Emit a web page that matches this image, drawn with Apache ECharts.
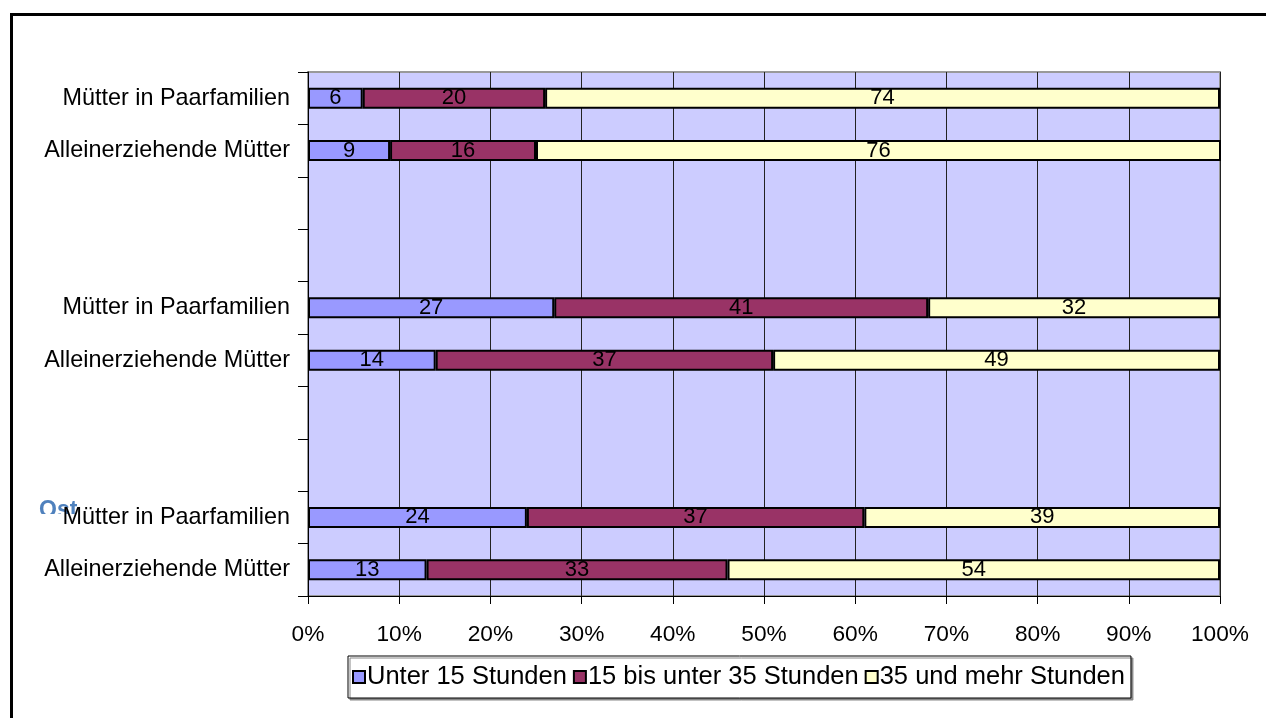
<!DOCTYPE html>
<html>
<head>
<meta charset="utf-8">
<script src="https://cdn.jsdelivr.net/npm/echarts@6/dist/echarts.min.js"></script>
<style>
html,body{margin:0;padding:0;background:#fff;}
#chart{width:1266px;height:718px;}
</style>
</head>
<body>
<div id="chart"></div>
<script>
// categories, bottom to top (empty strings are spacer rows)
const categories = ['Alleinerziehende Mütter','Mütter in Paarfamilien','','','Alleinerziehende Mütter','Mütter in Paarfamilien','','','Alleinerziehende Mütter','Mütter in Paarfamilien'];
const seriesNames = ['Unter 15 Stunden','15 bis unter 35 Stunden','35 und mehr Stunden'];
const under15 = [13,24,null,null,14,27,null,null,9,6];
const from15to35 = [33,37,null,null,37,41,null,null,16,20];
const over35 = [54,39,null,null,49,32,null,null,76,74];
const xTicks = [0,10,20,30,40,50,60,70,80,90,100];

const colors = ['#9999FF','#993366','#FFFFCC'];
const FONT = 'Liberation Sans, Arial, sans-serif';

const chart = echarts.init(document.getElementById('chart'));
const mk = (name, data, color) => ({
  name, type:'bar', stack:'total', data, barWidth:21,
  itemStyle:{color, borderColor:'#000', borderWidth:2},
  label:{show:true, position:'inside', color:'#000', fontSize:22, fontFamily:FONT,
         formatter:p=> p.value==null?'':String(p.value)},
  emphasis:{disabled:true}
});
chart.setOption({
  animation:false,
  grid:{left:308, right:46, top:72, bottom:122, show:true, backgroundColor:'#CCCCFF', borderColor:'#999', borderWidth:2},
  legend:{
    data:seriesNames, left:348, top:656, orient:'horizontal',
    backgroundColor:'#fff', borderColor:'#000', borderWidth:1,
    shadowColor:'#888', shadowOffsetX:2, shadowOffsetY:2, shadowBlur:0,
    padding:[8,6,8,4], itemGap:6, itemWidth:12, itemHeight:12, icon:'rect',
    itemStyle:{borderColor:'#000', borderWidth:2},
    textStyle:{fontSize:25.5, fontFamily:FONT, color:'#000', padding:[0,0,0,-3]}
  },
  xAxis:{
    type:'value', min:xTicks[0], max:xTicks[xTicks.length-1], interval:10,
    axisLine:{show:true, lineStyle:{color:'#000', width:1}},
    axisTick:{show:true, length:8, lineStyle:{color:'#000'}},
    axisLabel:{formatter:'{value}%', fontSize:22.7, fontFamily:FONT, color:'#000', margin:27},
    splitLine:{show:true, lineStyle:{color:'#222', width:1}}
  },
  yAxis:{
    type:'category', data:categories.map((c,i)=>String(i)), z:10,
    axisLine:{show:true, lineStyle:{color:'#000', width:1}},
    axisTick:{show:true, length:10, interval:0, lineStyle:{color:'#000'}},
    axisLabel:{interval:0, fontSize:23.4, fontFamily:FONT, color:'#000', margin:18,
               formatter:(v,i)=>categories[Number(v)]},
    splitLine:{show:false}
  },
  graphic:[
    {type:'rect', left:9, top:12, shape:{width:1400, height:800}, style:{fill:'none', stroke:'#000', lineWidth:3}, silent:true},
    {type:'text', left:39, top:499, style:{text:'Ost', fill:'#4F81BD', font:'bold 23px Liberation Sans, Arial, sans-serif'}, z:1},
    {type:'rect', left:34, top:514, shape:{width:50, height:25}, style:{fill:'#fff'}, z:2}
  ],
  series:[mk(seriesNames[0],under15,colors[0]), mk(seriesNames[1],from15to35,colors[1]), mk(seriesNames[2],over35,colors[2])]
});
</script>
</body>
</html>
